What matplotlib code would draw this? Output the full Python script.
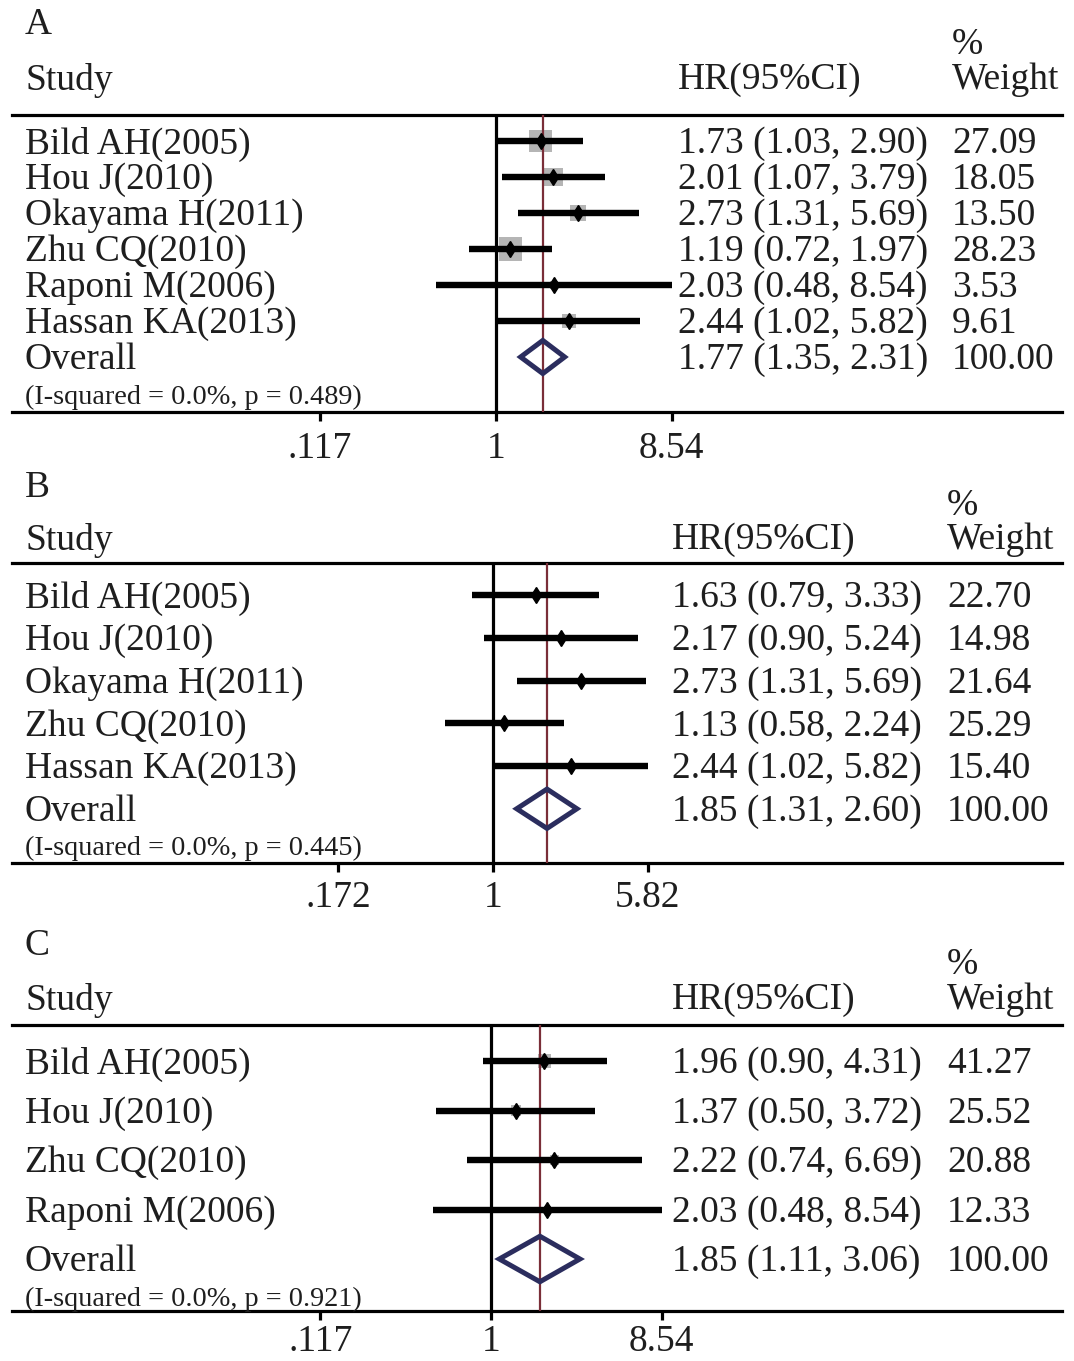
import numpy as np
import matplotlib.pyplot as plt
from matplotlib import transforms
from matplotlib.patches import Polygon

plt.rcParams['font.family'] = ['Liberation Serif', 'DejaVu Serif']

# Panel A
studies_a = ['Bild AH(2005)', 'Hou J(2010)', 'Okayama H(2011)', 'Zhu CQ(2010)',
             'Raponi M(2006)', 'Hassan KA(2013)']
hr_a = [1.73, 2.01, 2.73, 1.19, 2.03, 2.44]
lo_a = [1.03, 1.07, 1.31, 0.72, 0.48, 1.02]
hi_a = [2.90, 3.79, 5.69, 1.97, 8.54, 5.82]
wt_a = [27.09, 18.05, 13.50, 28.23, 3.53, 9.61]
overall_a = [1.77, 1.35, 2.31]
p_a = 0.489

# Panel B
studies_b = ['Bild AH(2005)', 'Hou J(2010)', 'Okayama H(2011)', 'Zhu CQ(2010)',
             'Hassan KA(2013)']
hr_b = [1.63, 2.17, 2.73, 1.13, 2.44]
lo_b = [0.79, 0.90, 1.31, 0.58, 1.02]
hi_b = [3.33, 5.24, 5.69, 2.24, 5.82]
wt_b = [22.70, 14.98, 21.64, 25.29, 15.40]
overall_b = [1.85, 1.31, 2.60]
p_b = 0.445

# Panel C
studies_c = ['Bild AH(2005)', 'Hou J(2010)', 'Zhu CQ(2010)', 'Raponi M(2006)']
hr_c = [1.96, 1.37, 2.22, 2.03]
lo_c = [0.90, 0.50, 0.74, 0.48]
hi_c = [4.31, 3.72, 6.69, 8.54]
wt_c = [41.27, 25.52, 20.88, 12.33]
overall_c = [1.85, 1.11, 3.06]
p_c = 0.921

W, H = 1074, 1361
fig = plt.figure(figsize=(W / 100, H / 100), dpi=100)

# pixel layout of each block
layouts = [
    dict(tag='A', y0=0, y1=465, one=496, k=82.0, row0=141, dy=36.0, top=115,
         bot=412, hdr=77, pct=42, letter=22, tlab=446, hrx=678, wtx=952, sq=4.4),
    dict(tag='B', y0=465, y1=915, one=493, k=87.8, row0=595, dy=42.75, top=563,
         bot=863, hdr=537, pct=503, letter=485, tlab=895, hrx=672, wtx=947, sq=0.8),
    dict(tag='C', y0=915, y1=1361, one=491, k=79.5, row0=1061, dy=49.5, top=1025,
         bot=1311, hdr=997, pct=962, letter=943, tlab=1339, hrx=672, wtx=947, sq=2.1),
]
panels = [
    (studies_a, hr_a, lo_a, hi_a, wt_a, overall_a, p_a),
    (studies_b, hr_b, lo_b, hi_b, wt_b, overall_b, p_b),
    (studies_c, hr_c, lo_c, hi_c, wt_c, overall_c, p_c),
]

FS = 27
DY = 3  # nudge text down onto its row
INK = '#1e1e1e'
RED = '#7A2E38'
NAVY = '#2B2D5E'


def tick_label(v):
    s = f'{v:.3g}'
    return s[1:] if s.startswith('0.') else s


for L, (names, hr, lo, hi, wt, ov, pval) in zip(layouts, panels):
    ax = fig.add_axes([0, 1 - L['y1'] / H, 1, (L['y1'] - L['y0']) / H])
    ax.set_xscale('log')
    ax.set_xlim(np.exp(-L['one'] / L['k']), np.exp((W - L['one']) / L['k']))
    ax.set_ylim(L['y1'], L['y0'])
    ax.axis('off')
    tr = transforms.blended_transform_factory(ax.transAxes, ax.transData)

    def put(x, y, s, **kw):
        kw.setdefault('fontsize', FS)
        ax.text(x / W, y + DY, s, transform=tr, va='center', color=INK, **kw)

    n = len(names)
    ys = L['row0'] + L['dy'] * np.arange(n)
    y_ov = L['row0'] + L['dy'] * n

    # headers
    put(25, L['letter'], L['tag'])
    put(25, L['hdr'], 'Study')
    put(L['hrx'], L['hdr'], 'HR(95%CI)')
    put(L['wtx'], L['pct'], '%')
    put(L['wtx'], L['hdr'], 'Weight')

    # rules
    for yl in (L['top'], L['bot']):
        ax.axhline(yl, 12 / W, 1062 / W, color='black', lw=2.3)

    # null line, ticks and their labels
    ticks = [1 / max(hi), 1, max(hi)]
    ax.vlines(1, L['top'], L['bot'], color='black', lw=2.3, zorder=2)
    ax.vlines(ticks, L['bot'], L['bot'] + 9, color='black', lw=2.3)
    for t in ticks:
        ax.text(t, L['tlab'] + DY, tick_label(t), fontsize=FS, ha='center',
                va='center', color=INK)

    # studies
    side = L['sq'] * np.sqrt(wt) * 0.72
    ax.scatter(hr, ys, s=side ** 2, marker='s', color='#B5B5B5', lw=0, zorder=1)
    ax.vlines(ov[0], L['top'], L['bot'], color=RED, lw=1.6, zorder=2)
    ax.hlines(ys, lo, hi, color='black', lw=4.6, zorder=3)
    ax.plot(hr, ys, 'd', color='black', ms=8.5, zorder=4)
    for y, name, h, l, u, w in zip(ys, names, hr, lo, hi, wt):
        put(25, y, name)
        put(L['hrx'], y, f'{h:.2f} ({l:.2f}, {u:.2f})')
        put(L['wtx'], y, f'{w:.2f}')

    # pooled estimate
    hh = 0.46 * L['dy']
    diamond = Polygon([(ov[1], y_ov), (ov[0], y_ov - hh), (ov[2], y_ov), (ov[0], y_ov + hh)],
                      closed=True, fill=False, edgecolor=NAVY, lw=3.6, zorder=5)
    ax.add_patch(diamond)
    put(25, y_ov, 'Overall')
    put(L['hrx'], y_ov, f'{ov[0]:.2f} ({ov[1]:.2f}, {ov[2]:.2f})')
    put(L['wtx'], y_ov, '100.00')
    put(25, y_ov + 37, f'(I-squared = 0.0%, p = {pval:.3f})', fontsize=20.3)

fig.savefig('out.png', dpi=100)
